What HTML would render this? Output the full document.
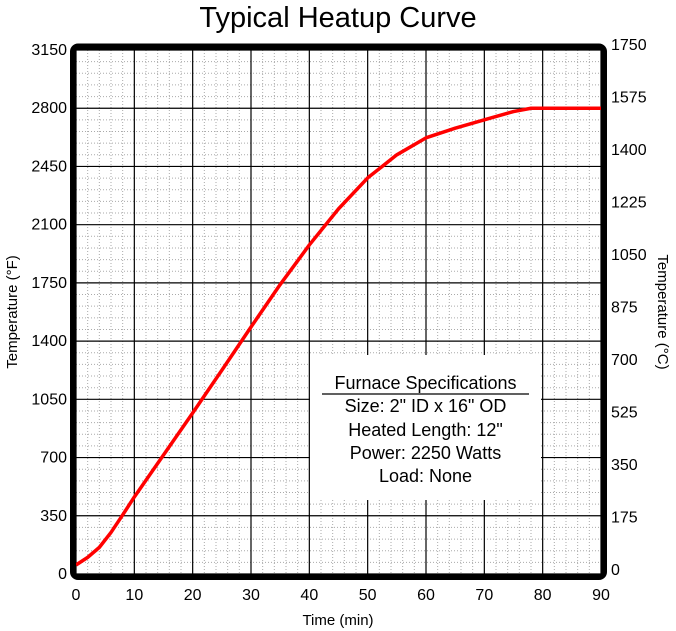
<!DOCTYPE html>
<html><head><meta charset="utf-8"><style>
body{margin:0;background:#fff;}
svg{display:block;font-family:"Liberation Sans",sans-serif;}
</style></head><body>
<svg width="676" height="631" viewBox="0 0 676 631">
<rect width="676" height="631" fill="#fff"/>
<text x="338" y="27" font-size="29" text-anchor="middle">Typical Heatup Curve</text>
<g id="grid"></g>
<rect x="310" y="355" width="231" height="145" fill="#fff"/>
<g font-size="18" text-anchor="middle">
<text x="425.5" y="389">Furnace Specifications</text>
<line x1="322" y1="394" x2="529" y2="394" stroke="#000" stroke-width="1.3"/>
<text x="425.5" y="412">Size: 2" ID x 16" OD</text>
<text x="425.5" y="436">Heated Length: 12"</text>
<text x="425.5" y="459">Power: 2250 Watts</text>
<text x="425.5" y="482">Load: None</text>
</g>
<g id="series"></g>
<rect x="73" y="46.5" width="531" height="530.5" rx="5" fill="none" stroke="#000" stroke-width="6"/>
<g id="labels" font-size="16"></g>
<text x="338" y="625" font-size="15" text-anchor="middle">Time (min)</text>
<text transform="translate(17,312) rotate(-90)" font-size="15" text-anchor="middle">Temperature (°F)</text>
<text transform="translate(658,312) rotate(90)" font-size="15" text-anchor="middle">Temperature (°C)</text>
</svg>
<script>
const timeMin = [0, 2, 4, 6, 8, 10, 15, 20, 25, 30, 35, 40, 45, 50, 55, 60, 65, 70, 75, 78, 80, 90];
const tempF = [54, 100, 160, 250, 355, 463, 715, 968, 1225, 1485, 1740, 1978, 2195, 2381, 2520, 2622, 2680, 2730, 2780, 2800, 2800, 2800];
const xTicks = [0,10,20,30,40,50,60,70,80,90];
const yTicksF = [0,350,700,1050,1400,1750,2100,2450,2800,3150];
const yTicksC = [0,175,350,525,700,875,1050,1225,1400,1575,1750];
const X0=76,X1=601,Y0=574,Y1=50;
const xs=t=>X0+(t/90)*(X1-X0);
const ys=f=>Y0-(f/3150)*(Y0-Y1);
const ysC=c=>569-(c/1750)*525;
const NS="http://www.w3.org/2000/svg";
function mk(tag,attrs,parent){const e=document.createElementNS(NS,tag);for(const k in attrs)e.setAttribute(k,attrs[k]);parent.appendChild(e);return e;}
const grid=document.getElementById('grid');
for(let t=0;t<=90;t+=2){if(t%10===0)continue;
const l=mk('line',{x1:xs(t),x2:xs(t),y1:Y1,y2:Y0,stroke:'#aaa','stroke-width':1,'stroke-dasharray':'1,2'},grid);

}
for(let f=0;f<=3150;f+=70){if(f%350===0)continue;
const l=mk('line',{x1:X0,x2:X1,y1:ys(f),y2:ys(f),stroke:'#aaa','stroke-width':1,'stroke-dasharray':'1,2'},grid);

}
xTicks.forEach(t=>{const l=mk('line',{x1:xs(t),x2:xs(t),y1:Y1,y2:Y0,stroke:'#000','stroke-width':1.2},grid);

});
yTicksF.forEach(f=>{const l=mk('line',{x1:X0,x2:X1,y1:ys(f),y2:ys(f),stroke:'#000','stroke-width':1.2},grid);

});
const series=document.getElementById('series');
const pts=timeMin.map((t,i)=>xs(t)+','+ys(tempF[i])).join(' ');
const pl=mk('polyline',{points:pts,fill:'none',stroke:'#ff0000','stroke-width':3.5,'stroke-linejoin':'round'},series);


const lab=document.getElementById('labels');
xTicks.forEach(t=>{const e=mk('text',{x:xs(t),y:600,'text-anchor':'middle'},lab);e.textContent=t;

});
yTicksF.forEach(f=>{const e=mk('text',{x:67,y:ys(f)+5,'text-anchor':'end'},lab);e.textContent=f;

});
yTicksC.forEach(c=>{const e=mk('text',{x:611,y:ysC(c)+6,'text-anchor':'start'},lab);e.textContent=c;

});
</script>
</body></html>
